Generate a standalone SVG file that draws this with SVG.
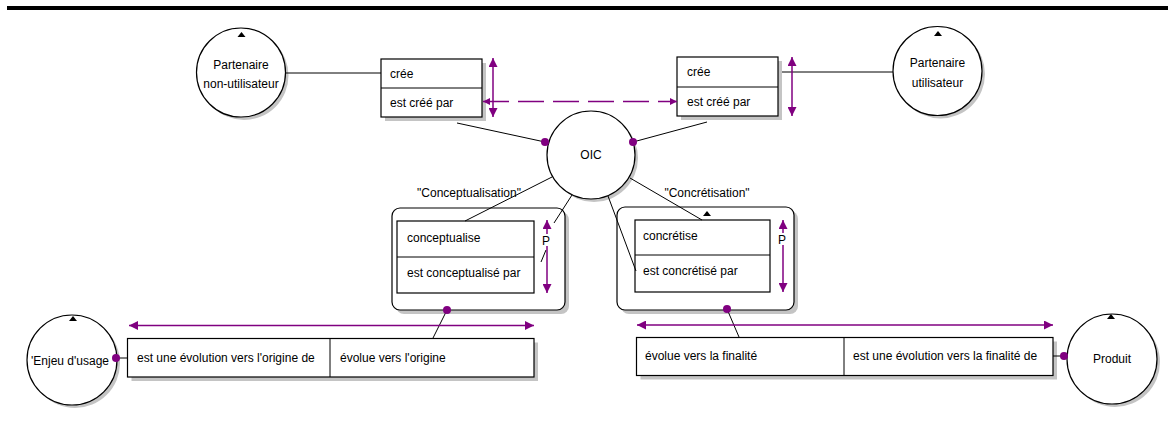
<svg xmlns="http://www.w3.org/2000/svg" width="1168" height="422" viewBox="0 0 1168 422">
<style>
text{font-family:"Liberation Sans",Arial,sans-serif;font-size:12px;fill:#000}
.c{text-anchor:middle}
.sh{fill:#c4c4c4;stroke:none}
.b{fill:#fff;stroke:#000;stroke-width:1.2}
.ln{stroke:#000;stroke-width:1;fill:none}
.pl{stroke:#800080;stroke-width:1.5;fill:none}
.dot{fill:#800080}
.tri{fill:#000}
</style>
<defs>
<marker id="ah" viewBox="0 0 10 10" refX="10" refY="5" markerWidth="11" markerHeight="9" markerUnits="userSpaceOnUse" orient="auto-start-reverse"><path d="M0,0 L10,5 L0,10 z" fill="#800080"/></marker>
<marker id="ahs" viewBox="0 0 10 10" refX="10" refY="5" markerWidth="8" markerHeight="7" markerUnits="userSpaceOnUse" orient="auto-start-reverse"><path d="M0,0 L10,5 L0,10 z" fill="#800080"/></marker>
</defs>
<rect x="7" y="6" width="1161" height="4" fill="#000"/>

<g id="partenaire-non-utilisateur">
<circle class="sh" cx="244" cy="75.5" r="44.5"/>
<circle class="b" cx="241" cy="72.5" r="44.5"/>
<path class="tri" d="M237.5,37 L245.5,37 L241.5,32 z"/>
<text class="c" x="241" y="69">Partenaire</text>
<text class="c" x="241" y="88">non-utilisateur</text>
</g>

<g id="cree-gauche">
<rect class="sh" x="385" y="63" width="101" height="58"/>
<rect class="b" x="381" y="59" width="101" height="58"/>
<line class="ln" x1="381" y1="88" x2="482" y2="88"/>
<text x="390" y="78">crée</text>
<text x="390" y="107">est créé par</text>
</g>

<g id="cree-droite">
<rect class="sh" x="681" y="61" width="101" height="59"/>
<rect class="b" x="677" y="57" width="101" height="59"/>
<line class="ln" x1="677" y1="87" x2="778" y2="87"/>
<text x="687" y="76">crée</text>
<text x="687" y="106">est créé par</text>
</g>

<g id="partenaire-utilisateur">
<circle class="sh" cx="940.5" cy="74" r="44.5"/>
<circle class="b" cx="937.5" cy="71" r="44.5"/>
<path class="tri" d="M934,36 L942,36 L938,31 z"/>
<text class="c" x="937.5" y="67">Partenaire</text>
<text class="c" x="937.5" y="87">utilisateur</text>
</g>

<g id="oic">
<circle class="sh" cx="594" cy="158" r="44"/>
<circle class="b" cx="591" cy="155" r="44"/>
<text class="c" x="591" y="159">OIC</text>
</g>

<g id="conceptualisation">
<rect class="sh" x="396" y="212" width="173" height="102" rx="8"/>
<rect class="b" x="392" y="208" width="173" height="102" rx="8"/>
<rect class="b" x="397" y="221" width="137" height="72"/>
<line class="ln" x1="397" y1="257" x2="534" y2="257"/>
<text x="407" y="242">conceptualise</text>
<text x="407" y="277">est conceptualisé par</text>
</g>

<g id="concretisation">
<rect class="sh" x="621" y="211" width="177" height="103" rx="8"/>
<rect class="b" x="617" y="207" width="177" height="103" rx="8"/>
<rect class="b" x="635" y="220" width="135" height="72"/>
<line class="ln" x1="635" y1="255" x2="770" y2="255"/>
<path class="tri" d="M703,216 L711,216 L707,211 z"/>
<text x="643" y="240">concrétise</text>
<text x="643" y="275">est concrétisé par</text>
</g>

<g id="enjeu-usage">
<circle class="sh" cx="75" cy="363" r="45"/>
<circle class="b" cx="72" cy="360" r="45"/>
<path class="tri" d="M69,321 L77,321 L73,316 z"/>
<text class="c" x="70" y="365">'Enjeu d'usage</text>
</g>

<g id="evolution-origine">
<rect class="sh" x="131.5" y="342.5" width="406.5" height="38.5"/>
<rect class="b" x="127.5" y="338.5" width="406.5" height="38.5"/>
<line class="ln" x1="330" y1="338.5" x2="330" y2="377"/>
<text x="137" y="362">est une évolution vers l'origine de</text>
<text x="340" y="362">évolue vers l'origine</text>
</g>

<g id="evolution-finalite">
<rect class="sh" x="640.5" y="341.5" width="416.5" height="38"/>
<rect class="b" x="636.5" y="337.5" width="416.5" height="38"/>
<line class="ln" x1="844" y1="337.5" x2="844" y2="375.5"/>
<text x="645" y="360">évolue vers la finalité</text>
<text x="853" y="360">est une évolution vers la finalité de</text>
</g>

<g id="produit">
<circle class="sh" cx="1115" cy="362" r="45"/>
<circle class="b" cx="1112" cy="359" r="45"/>
<path class="tri" d="M1107,319 L1115,319 L1111,314 z"/>
<text class="c" x="1112" y="363">Produit</text>
</g>

<g id="connectors">
<line class="ln" x1="286" y1="73" x2="381" y2="73"/>
<line class="ln" x1="782" y1="72" x2="893" y2="72"/>
<line class="ln" x1="457" y1="123" x2="545" y2="142"/>
<line class="ln" x1="707" y1="122" x2="633" y2="142"/>
<line class="ln" x1="552" y1="177" x2="465" y2="221"/>
<line class="ln" x1="572" y1="195" x2="554" y2="223"/>
<line class="ln" x1="546" y1="250" x2="541" y2="262"/>
<line class="ln" x1="608" y1="196" x2="636" y2="271"/>
<line class="ln" x1="630" y1="178" x2="702" y2="220"/>
<line class="ln" x1="447" y1="310" x2="433" y2="338"/>
<line class="ln" x1="727" y1="309" x2="739" y2="337"/>
<line class="ln" x1="116" y1="358" x2="128" y2="358"/>
<line class="ln" x1="1053" y1="356" x2="1064" y2="356"/>
<line class="pl" x1="493" y1="58" x2="493" y2="117" marker-start="url(#ah)" marker-end="url(#ah)"/>
<line class="pl" x1="792" y1="57" x2="792" y2="116" marker-start="url(#ah)" marker-end="url(#ah)"/>
<line class="pl" x1="483" y1="101.5" x2="677" y2="101.5" stroke-dasharray="26 9" marker-start="url(#ahs)" marker-end="url(#ahs)"/>
<line class="pl" x1="547" y1="220" x2="547" y2="293" marker-start="url(#ah)" marker-end="url(#ah)"/>
<line class="pl" x1="783" y1="220" x2="783" y2="292" marker-start="url(#ah)" marker-end="url(#ah)"/>
<line class="pl" x1="129" y1="325.5" x2="534" y2="325.5" marker-start="url(#ah)" marker-end="url(#ah)"/>
<line class="pl" x1="637" y1="325" x2="1053" y2="325" marker-start="url(#ah)" marker-end="url(#ah)"/>
<circle class="dot" cx="545" cy="142" r="4"/>
<circle class="dot" cx="633" cy="142" r="4"/>
<circle class="dot" cx="447" cy="310" r="4"/>
<circle class="dot" cx="727" cy="309" r="4"/>
<circle class="dot" cx="116" cy="358" r="4"/>
<circle class="dot" cx="1064" cy="356" r="4"/>
<rect x="541" y="234" width="10" height="12" fill="#fff"/>
<rect x="777" y="233" width="10" height="12" fill="#fff"/>
<text x="542" y="245">P</text>
<text x="778" y="244">P</text>
<text class="c" x="469" y="197">"Conceptualisation"</text>
<text class="c" x="707" y="197">"Concrétisation"</text>
</g>
</svg>
